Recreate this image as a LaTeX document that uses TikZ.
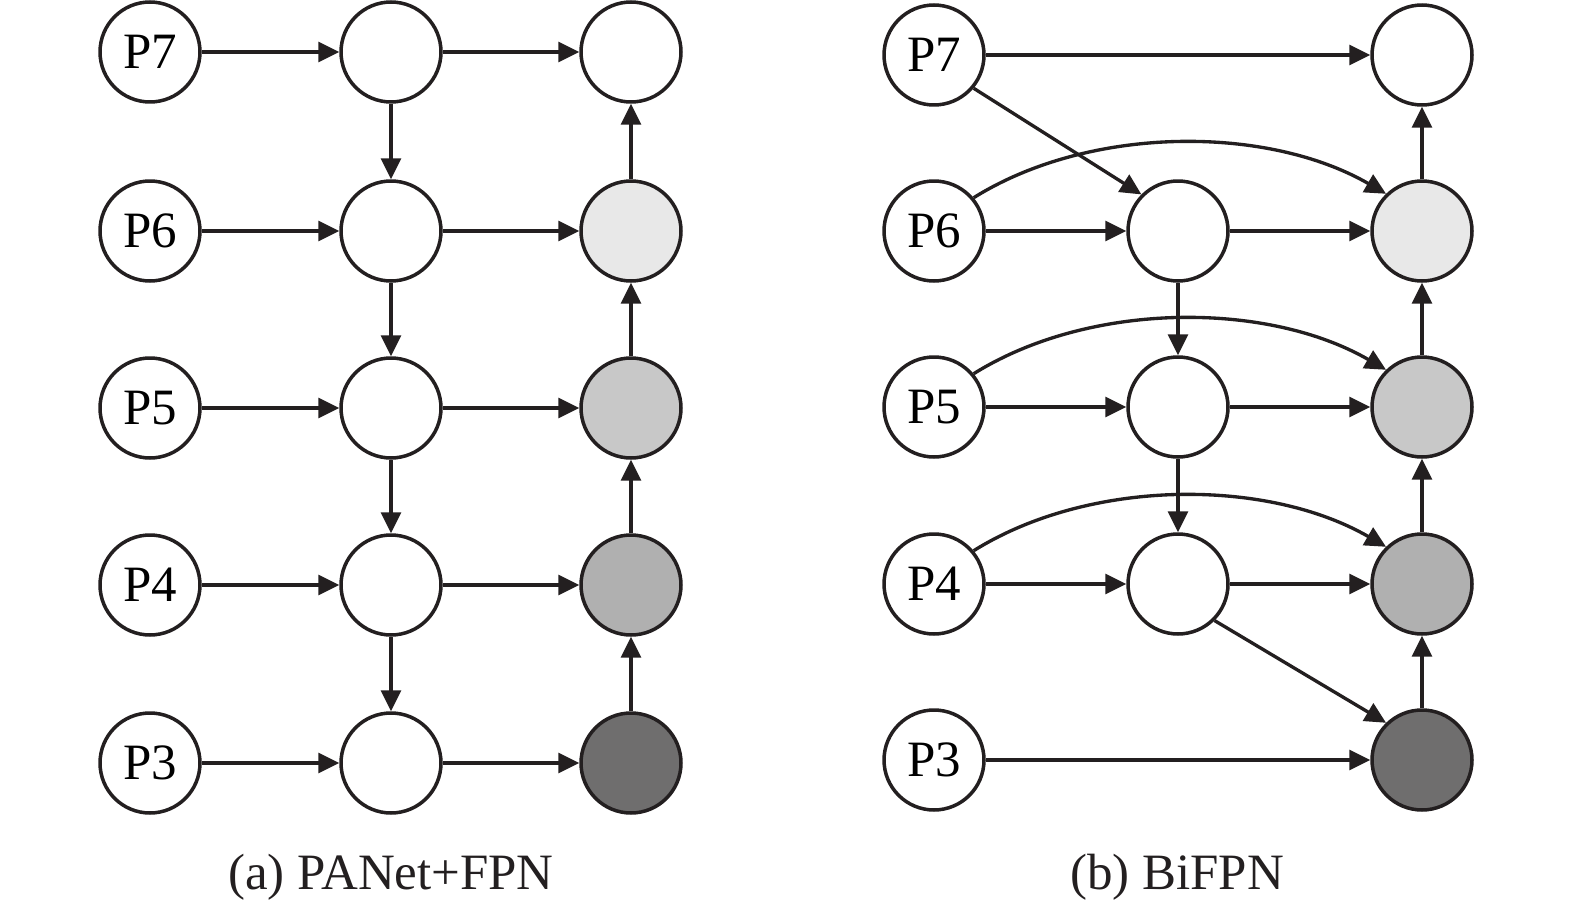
\documentclass[tikz,border=0pt]{standalone}
\usepackage{fontspec}
\setmainfont{Liberation Serif}
\usetikzlibrary{arrows.meta}
\definecolor{ink}{HTML}{231F20}
\definecolor{fillA}{HTML}{E8E8E8}
\definecolor{fillB}{HTML}{C8C8C8}
\definecolor{fillC}{HTML}{B0B0B0}
\definecolor{fillD}{HTML}{6F6E6E}
\tikzset{
  lvl/.style={circle, draw=ink, line width=2pt, minimum size=2cm, inner sep=0pt, fill=white, font=\fontsize{29}{32}\selectfont},
  arr/.style={draw=ink, line width=1.9pt, -{Triangle[length=0.42cm,width=0.4cm]}},
  captext/.style={font=\fontsize{29}{32}\selectfont, text=ink}
}
\begin{document}
\begin{tikzpicture}[x=0.02cm,y=0.02cm]
\useasboundingbox (0,0) rectangle (1575,-909);
% ---------- (a) PANet+FPN ----------
\foreach \n/\y in {7/-52,6/-231,5/-408,4/-585,3/-763}{
  \node[lvl] (aP\n) at (150,\y) {P\n};
}
\node[lvl] (aM7) at (391,-52) {};
\node[lvl] (aM6) at (391,-231) {};
\node[lvl] (aM5) at (391,-408) {};
\node[lvl] (aM4) at (391,-585) {};
\node[lvl] (aM3) at (391,-763) {};
\node[lvl] (aR7) at (631,-52) {};
\node[lvl, fill=fillA] (aR6) at (631,-231) {};
\node[lvl, fill=fillB] (aR5) at (631,-408) {};
\node[lvl, fill=fillC] (aR4) at (631,-585) {};
\node[lvl, fill=fillD] (aR3) at (631,-763) {};
\foreach \n in {7,6,5,4,3}{
  \draw[arr] (aP\n) -- (aM\n);
  \draw[arr] (aM\n) -- (aR\n);
}
\draw[arr] (aM7) -- (aM6);
\draw[arr] (aM6) -- (aM5);
\draw[arr] (aM5) -- (aM4);
\draw[arr] (aM4) -- (aM3);
\draw[arr] (aR3) -- (aR4);
\draw[arr] (aR4) -- (aR5);
\draw[arr] (aR5) -- (aR6);
\draw[arr] (aR6) -- (aR7);
\node[captext] (capa) at (391,-877) {(a) PANet+FPN};
% ---------- (b) BiFPN ----------
\node[lvl] (bP7) at (934,-55) {P7};
\node[lvl] (bP6) at (934,-231) {P6};
\node[lvl] (bP5) at (934,-407) {P5};
\node[lvl] (bP4) at (934,-584) {P4};
\node[lvl] (bP3) at (934,-760) {P3};
\node[lvl] (bM6) at (1178,-231) {};
\node[lvl] (bM5) at (1178,-407) {};
\node[lvl] (bM4) at (1178,-584) {};
\node[lvl] (bR7) at (1422,-55) {};
\node[lvl, fill=fillA] (bR6) at (1422,-231) {};
\node[lvl, fill=fillB] (bR5) at (1422,-407) {};
\node[lvl, fill=fillC] (bR4) at (1422,-584) {};
\node[lvl, fill=fillD] (bR3) at (1422,-760) {};
\draw[arr] (bP7) -- (bR7);
\draw[arr] (bP7.-40) -- (bM6.135);
\foreach \n in {6,5,4}{
  \draw[arr] (bP\n) -- (bM\n);
  \draw[arr] (bM\n) -- (bR\n);
  \draw[arr] (bP\n.40) to[out=32,in=150,looseness=0.85] (bR\n.134);
}
\draw[arr] (bP3) -- (bR3);
\draw[arr] (bM6) -- (bM5);
\draw[arr] (bM5) -- (bM4);
\draw[arr] (bM4.-45) -- (bR3.134);
\draw[arr] (bR3) -- (bR4);
\draw[arr] (bR4) -- (bR5);
\draw[arr] (bR5) -- (bR6);
\draw[arr] (bR6) -- (bR7);
\node[captext] (capb) at (1177,-877) {(b) BiFPN};
\end{tikzpicture}
\end{document}
